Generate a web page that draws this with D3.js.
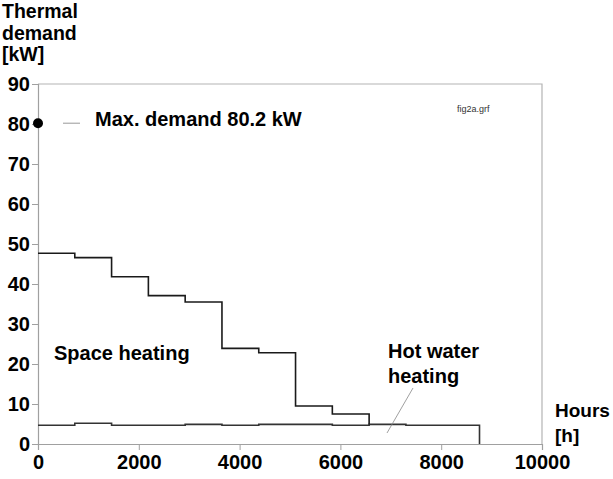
<!DOCTYPE html>
<html>
<head>
<meta charset="utf-8">
<script src="https://cdn.jsdelivr.net/npm/d3@7"></script>
<style>
  body { margin: 0; background: #fff; }
  svg text { font-family: "Liberation Sans", Arial, sans-serif; font-weight: bold; }
</style>
</head>
<body>
<div class="chart"></div>
<script>
// monthly steps, 730 h each
var monthEdges = [0, 730, 1460, 2190, 2920, 3650, 4380, 5110, 5840, 6570, 7300, 8030, 8760];
var spaceHeating = [47.7, 46.6, 41.8, 37.1, 35.5, 23.9, 22.8, 9.5, 7.5, 4.9, 4.7, 4.7];
var hotWater = [4.7, 5.2, 4.7, 4.7, 4.9, 4.7, 4.9, 4.9, 4.7, 4.9, 4.7, 4.7];
var maxDemand = 80.2;
var xTicks = [0, 2000, 4000, 6000, 8000, 10000];
var yTicks = [0, 10, 20, 30, 40, 50, 60, 70, 80, 90];

var width = 613, height = 479;
var svg = d3.select(".chart").append("svg")
    .attr("width", width)
    .attr("height", height);

var x = d3.scaleLinear().domain([0, 10000]).range([38, 542]);
var y = d3.scaleLinear().domain([0, 90]).range([444, 84]);

// frame (top + right)
svg.append("path")
    .attr("d", "M" + x(0) + "," + y(90) + "H" + x(10000) + "V" + y(0))
    .attr("fill", "none")
    .attr("stroke", "#b4b4b4")
    .attr("stroke-width", 1.2);

var xAxis = svg.append("g")
    .attr("transform", "translate(0," + y(0) + ")")
    .call(d3.axisBottom(x).tickValues(xTicks).tickSize(6).tickPadding(5).tickFormat(d3.format("d")));
var yAxis = svg.append("g")
    .attr("transform", "translate(" + x(0) + ",0)")
    .call(d3.axisLeft(y).tickValues(yTicks).tickSize(6).tickPadding(2));

[xAxis, yAxis].forEach(function(g) {
    g.select(".domain").attr("stroke", "#a0a0a0").attr("stroke-width", 1.2);
    g.selectAll(".tick line").attr("stroke", "#a0a0a0");
    g.selectAll(".tick text")
        .attr("fill", "#000")
        .style("font-size", "20px")
        .style("font-family", "Liberation Sans, Arial, sans-serif")
        .style("font-weight", "bold");
});

function steps(vals) {
    var pts = [];
    vals.forEach(function(v, i) {
        pts.push([monthEdges[i], v]);
        pts.push([monthEdges[i + 1], v]);
    });
    pts.push([monthEdges[monthEdges.length - 1], 0]);
    return pts;
}

var line = d3.line()
    .x(function(d) { return x(d[0]); })
    .y(function(d) { return y(d[1]); });

svg.append("path")
    .datum(steps(hotWater))
    .attr("d", line)
    .attr("fill", "none")
    .attr("stroke", "#333")
    .attr("stroke-width", 1.6);

svg.append("path")
    .datum(steps(spaceHeating).slice(0, 19))
    .attr("d", line)
    .attr("fill", "none")
    .attr("stroke", "#1a1a1a")
    .attr("stroke-width", 1.6);

// max demand
svg.append("circle")
    .attr("cx", x(0))
    .attr("cy", y(maxDemand))
    .attr("r", 5)
    .attr("fill", "#000");

svg.append("line")
    .attr("x1", 63).attr("x2", 80)
    .attr("y1", y(maxDemand)).attr("y2", y(maxDemand))
    .attr("stroke", "#999").attr("stroke-width", 1);

svg.append("text").attr("x", 95).attr("y", 126)
    .style("font-size", "20px").text("Max. demand 80.2 kW");

svg.append("text").attr("x", 457).attr("y", 112)
    .style("font-size", "9px").style("font-weight", "normal")
    .attr("fill", "#333").text("fig2a.grf");

// titles
var title = ["Thermal", "demand", "[kW]"];
svg.append("g").selectAll("text").data(title).enter().append("text")
    .attr("x", 2)
    .attr("y", function(d, i) { return 18 + i * 21.5; })
    .style("font-size", "19.5px")
    .text(function(d) { return d; });

svg.append("text").attr("x", 555).attr("y", 417).style("font-size", "19px").text("Hours");
svg.append("text").attr("x", 555).attr("y", 442).style("font-size", "19px").text("[h]");

svg.append("text").attr("x", 54).attr("y", 360).style("font-size", "20px").text("Space heating");
svg.append("text").attr("x", 388).attr("y", 358).style("font-size", "20px").text("Hot water");
svg.append("text").attr("x", 388).attr("y", 383).style("font-size", "20px").text("heating");

svg.append("line")
    .attr("x1", 413).attr("y1", 388)
    .attr("x2", 387).attr("y2", 433)
    .attr("stroke", "#888").attr("stroke-width", 0.8);
</script>
</body>
</html>
